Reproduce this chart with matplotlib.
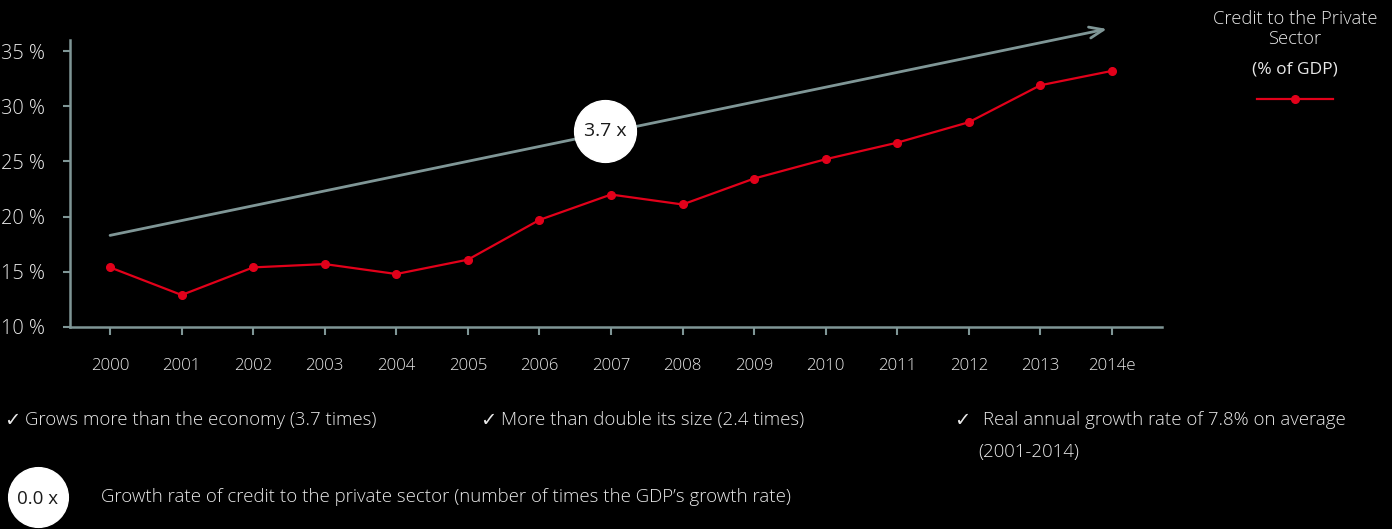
import matplotlib
matplotlib.use("Agg")
import matplotlib.pyplot as plt

# Credit to the private sector, % of GDP
years = ["2000", "2001", "2002", "2003", "2004", "2005", "2006", "2007",
         "2008", "2009", "2010", "2011", "2012", "2013", "2014e"]
credit_pct = [15.4, 12.9, 15.4, 15.7, 14.8, 16.1, 19.7, 22.0,
              21.1, 23.45, 25.2, 26.7, 28.55, 31.9, 33.2]
y_ticks = [10, 15, 20, 25, 30, 35]
trend_start = (0, 18.3)
trend_end = (13.93, 37.0)
multiplier_label = "3.7 x"

RED = "#e2001a"
GREY = "#7f9696"
TXT = "#e8e8e8"
FONT = ["Open Sans", "DejaVu Sans"]

plt.rcParams["font.family"] = FONT
plt.rcParams["font.weight"] = "light"

W, H = 1392, 529
fig = plt.figure(figsize=(W / 100, H / 100), dpi=100, facecolor="black")


def fx(px):
    return px / W


def fy(py):
    return 1 - py / H


ax = fig.add_axes([fx(70), fy(327), fx(1162) - fx(70), fy(40) - fy(327)])
ax.set_facecolor("black")

x = list(range(len(years)))
ax.plot(x, credit_pct, color=RED, lw=1.6, marker="o", ms=5.5, zorder=3)

# trend arrow
ax.annotate("", xy=trend_end, xytext=trend_start, xycoords="data",
            annotation_clip=False,
            arrowprops=dict(arrowstyle="->,head_length=1.0,head_width=0.4",
                            color=GREY, lw=2, shrinkA=0, shrinkB=0))

# multiplier bubble on the trend line
bx, by = 6.92, 27.8
ax.plot([bx], [by], marker="o", ms=44.5, color="white", mec="white", zorder=5,
        clip_on=False)
ax.text(bx, by, multiplier_label, ha="center", va="center", fontsize=14,
        color="#1a1a1a", fontweight="normal", zorder=6)

ax.set_xlim(-0.56, 14.7)
ax.set_ylim(10, 36)
ax.set_xticks(x)
ax.set_xticklabels(years)
ax.set_yticks(y_ticks)
ax.set_yticklabels([f"{v} %" for v in y_ticks])

for side in ["top", "right"]:
    ax.spines[side].set_visible(False)
for side in ["left", "bottom"]:
    ax.spines[side].set_color(GREY)
    ax.spines[side].set_linewidth(1.8)

ax.tick_params(axis="x", colors=GREY, length=6, width=1.5, pad=16,
               labelcolor=TXT, labelsize=12.2)
ax.tick_params(axis="y", colors=GREY, length=5, width=1.5, pad=13,
               labelcolor=TXT, labelsize=14.3)

# legend block
fig.text(fx(1295), fy(29), "Credit to the Private\nSector", ha="center",
         va="center", fontsize=13.2, color=TXT, linespacing=1.2)
fig.text(fx(1295), fy(70), "(% of GDP)", ha="center", va="center",
         fontsize=12.5, color=TXT, fontweight="normal")
leg = fig.add_axes([0, 0, 1, 1], facecolor="none")
leg.set_xlim(0, W)
leg.set_ylim(H, 0)
leg.axis("off")
leg.plot([1257, 1333], [99, 99], color=RED, lw=1.6)
leg.plot([1295], [99], marker="o", ms=5.5, color=RED)

# bullet notes
NOTE_SIZE = 13.4
notes = [
    (4, 25, "Grows more than the economy (3.7 times)"),
    (480, 501, "More than double its size (2.4 times)"),
    (954, 983, "Real annual growth rate of 7.8% on average"),
]
for check_x, text_x, note in notes:
    leg.text(check_x, 421, "\u2713", ha="left", va="center",
             fontsize=14, color=TXT, family="DejaVu Sans",
             fontweight="normal")
    leg.text(text_x, 420, note, ha="left", va="center",
             fontsize=NOTE_SIZE, color=TXT)
leg.text(978, 452, "(2001-2014)", ha="left", va="center",
         fontsize=NOTE_SIZE, color=TXT)

# key for the bubble
leg.plot([37.5], [497], marker="o", ms=43, color="white", mec="white",
         clip_on=False)
leg.text(37.5, 499, "0.0 x", ha="center", va="center", fontsize=13.5,
         color="#1a1a1a", fontweight="normal")
leg.text(101, 497,
         "Growth rate of credit to the private sector (number of times the GDP\u2019s growth rate)",
         ha="left", va="center", fontsize=NOTE_SIZE, color=TXT)

fig.savefig("out.png", dpi=100, facecolor="black")
